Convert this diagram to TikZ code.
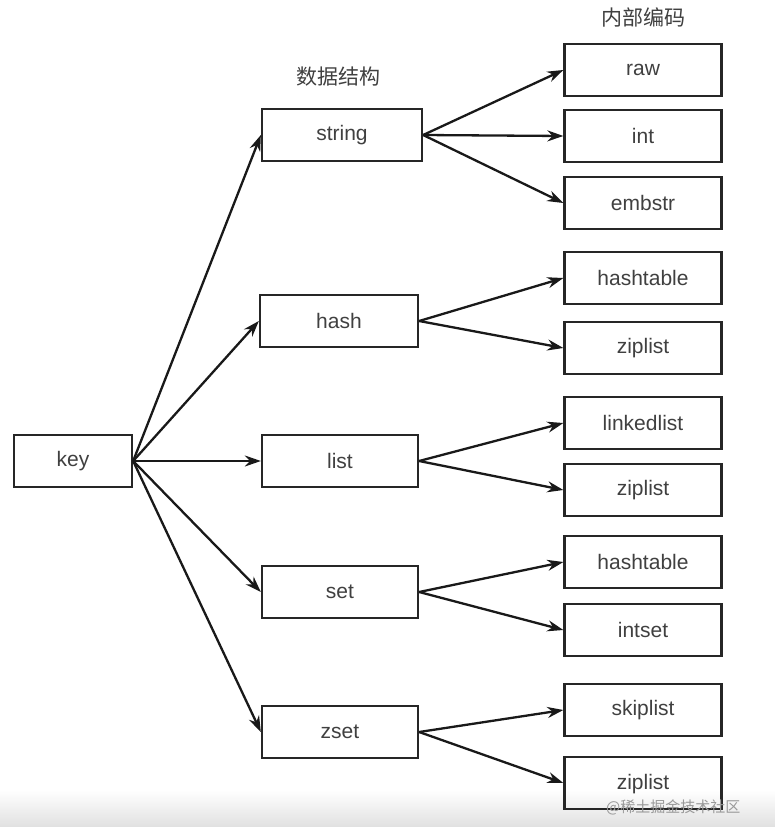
\documentclass[tikz,border=0pt]{standalone}
\usepackage{fontspec}
\setmainfont{Liberation Sans}
\newfontfamily\cjk{Noto Sans CJK SC}
\usetikzlibrary{arrows.meta}
\begin{document}
\begin{tikzpicture}[x=1pt,y=-1pt,
  box/.style={draw=black!85,line width=2.3pt,minimum height=52pt,inner sep=0pt,font=\fontsize{21}{24}\selectfont,text=black!75},
  midbox/.style={box,minimum width=156pt},
  encbox/.style={box,minimum width=157pt},
  conn/.style={draw=black!90,line width=2.3pt,-{Stealth[length=16pt,width=11pt]}},
  head/.style={font=\cjk\fontsize{21}{24}\selectfont,text=black!75}]
\useasboundingbox (0,0) rectangle (775,827);
\fill[white] (0,0) rectangle (775,827);
\shade[top color=white,bottom color=black!12] (0,790) rectangle (775,827);
% heads
\node[head] (h1) at (338,77) {数据结构};
\node[head] (h2) at (643,17) {内部编码};
% key
\node[box,minimum width=118pt] (key) at (73,461) {key};
% middle
\node[midbox,minimum width=160pt] (string) at (342,135) {string};
\node[midbox,minimum width=158pt] (hash) at (339,321) {hash};
\node[midbox] (list) at (340,461) {list};
\node[midbox] (set) at (340,592) {set};
\node[midbox] (zset) at (340,732) {zset};
% right
\node[encbox] (raw) at (643,70) {raw};
\node[encbox] (int) at (643,136) {int};
\node[encbox] (embstr) at (643,203) {embstr};
\node[encbox] (ht1) at (643,278) {hashtable};
\node[encbox] (zl1) at (643,348) {ziplist};
\node[encbox] (ll) at (643,423) {linkedlist};
\node[encbox] (zl2) at (643,490) {ziplist};
\node[encbox] (ht2) at (643,562) {hashtable};
\node[encbox] (is) at (643,630) {intset};
\node[encbox] (sl) at (643,710) {skiplist};
\node[encbox,text depth=0pt] (zl3) at (643,783) {\raisebox{3pt}{ziplist}};
% connectors from key
\foreach \t in {string,hash,list,set,zset}
  \draw[conn] (key.east) -- (\t.west);
% connectors to encodings
\foreach \s/\t in {string/raw,string/int,string/embstr,hash/ht1,hash/zl1,list/ll,list/zl2,set/ht2,set/is,zset/sl,zset/zl3}
  \draw[conn] (\s.east) -- (\t.west);
% watermark
\node[font=\cjk\fontsize{15}{17}\selectfont,text=black!40,anchor=west,inner sep=0pt] (wm) at (606,807) {@稀土掘金技术社区};
\end{tikzpicture}
\end{document}
